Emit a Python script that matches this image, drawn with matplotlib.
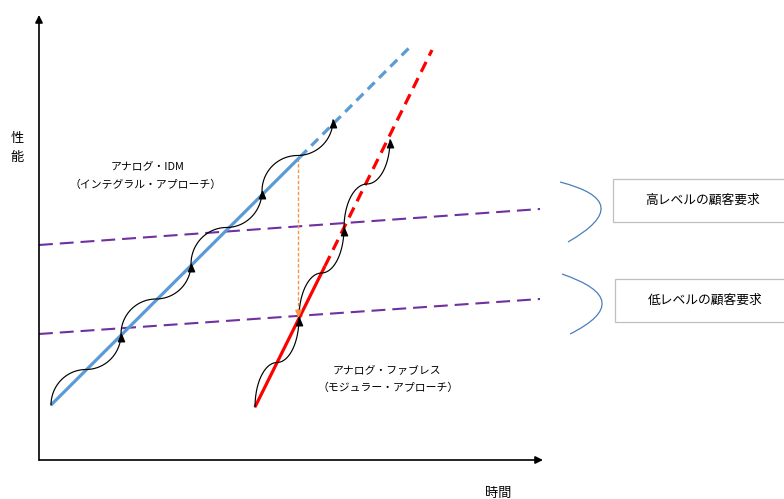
import numpy as np
import matplotlib
matplotlib.use("Agg")
import matplotlib.pyplot as plt
from matplotlib.path import Path
from matplotlib.patches import PathPatch, Rectangle
from matplotlib.markers import MarkerStyle

plt.rcParams['font.family'] = ['Noto Sans CJK JP', 'DejaVu Sans']
plt.rcParams['lines.scale_dashes'] = False

# ---- data (time on x, performance on y) ----
axis_origin = (39, 39)
axis_time_end = 543
axis_perf_end = 484

# trajectory: start, end of achieved (solid) part, end of projection (dashed)
idm_time = [51, 300, 412]
idm_perf = [94, 342, 454]
fabless_time = [255, 325, 432]
fabless_perf = [92, 233, 449]

# product generations along each trajectory
idm_step_time = [51, 121, 191, 262, 333]
idm_step_perf = [94, 165, 235, 308, 379]
fabless_step_time = [255, 299, 344, 390]
fabless_step_perf = [92, 181, 271, 359]

# customer requirement levels
req_time = [39, 540]
req_high_perf = [254, 290]
req_low_perf = [165, 200]

# catch-up marker
catch_time = 298
catch_perf = [341, 183]

idm_label = ['アナログ・IDM', '（インテグラル・アプローチ）']
fabless_label = ['アナログ・ファブレス', '（モジュラー・アプローチ）']
req_labels = ['高レベルの顧客要求', '低レベルの顧客要求']
x_label = '時間'
y_label = ['性', '能']

# ---- colours ----
BLUE = '#5B9BD5'
RED = '#FF0000'
PURPLE = '#7030A0'
ORANGE = '#F79646'
BRACKET = '#4A7EBB'

fig = plt.figure(figsize=(7.84, 4.99), dpi=100)
ax = fig.add_axes([0, 0, 1, 1])
ax.set_xlim(0, 784)
ax.set_ylim(0, 499)
ax.axis('off')

# axes with arrow heads
arrow_kw = dict(arrowstyle='-|>', color='black', lw=1.2, mutation_scale=11,
                shrinkA=0, shrinkB=0)
ax.annotate('', xy=(axis_time_end, axis_origin[1]), xytext=axis_origin,
            arrowprops=arrow_kw)
ax.annotate('', xy=(axis_origin[0], axis_perf_end), xytext=axis_origin,
            arrowprops=arrow_kw)

# requirement levels
for perf in (req_high_perf, req_low_perf):
    ax.plot(req_time, perf, color=PURPLE, lw=1.5, dashes=(10, 5),
            solid_capstyle='butt', dash_capstyle='butt', zorder=2)

# trajectories
ax.plot(idm_time[:2], idm_perf[:2], color=BLUE, lw=2.3, zorder=3,
        solid_capstyle='butt')
ax.plot(idm_time[1:], idm_perf[1:], color=BLUE, lw=2.3, dashes=(7, 4.5),
        zorder=3, dash_capstyle='butt')
ax.plot(fabless_time[:2], fabless_perf[:2], color=RED, lw=2.3, zorder=3,
        solid_capstyle='butt')
ax.plot(fabless_time[1:], fabless_perf[1:], color=RED, lw=2.3, dashes=(8, 5),
        zorder=3, dash_capstyle='butt')


def staircase_wave(ts, ps):
    """Smooth S-curve: vertical tangent at each step, horizontal midway."""
    xs, ys = [], []
    th = np.linspace(0, np.pi / 2, 40)
    for i in range(len(ts) - 1):
        x0, y0 = ts[i], ps[i]
        x2, y2 = ts[i + 1], ps[i + 1]
        xm, ym = (x0 + x2) / 2, (y0 + y2) / 2
        xs.extend(xm - (xm - x0) * np.cos(th))
        ys.extend(y0 + (ym - y0) * np.sin(th))
        xs.extend(xm + (x2 - xm) * np.sin(th))
        ys.extend(y2 - (y2 - ym) * np.cos(th))
    return xs, ys


tip_up = MarkerStyle(Path([(0, 0), (-0.42, -1.0), (0.42, -1.0), (0, 0)],
                          [Path.MOVETO, Path.LINETO, Path.LINETO, Path.CLOSEPOLY]))
tip_down = MarkerStyle(Path([(0, 0), (-0.42, 1.0), (0.42, 1.0), (0, 0)],
                            [Path.MOVETO, Path.LINETO, Path.LINETO, Path.CLOSEPOLY]))

for ts, ps in ((idm_step_time, idm_step_perf),
               (fabless_step_time, fabless_step_perf)):
    wx, wy = staircase_wave(ts, ps)
    ax.plot(wx, wy, color='black', lw=0.85, zorder=4)
    ax.plot(ts[1:], ps[1:], linestyle='none', marker=tip_up, markersize=10.5,
            color='black', zorder=5)

# catch-up line
ax.plot([catch_time, catch_time], catch_perf, color=ORANGE, lw=1.0,
        dashes=(2.5, 1.5), zorder=2)
ax.plot([catch_time], [catch_perf[1]], linestyle='none', marker=tip_down,
        markersize=9, color=ORANGE, zorder=6)

# trajectory labels
label_kw = dict(ha='center', va='center', fontsize=7.8, color='black')
ax.text(148, 499 - 166, idm_label[0], **label_kw)
ax.text(146, 499 - 185, idm_label[1], **label_kw)
ax.text(387, 499 - 370, fabless_label[0], **label_kw)
ax.text(388, 499 - 388, fabless_label[1], **label_kw)

# axis titles
ax.text(17, 499 - 138, y_label[0], ha='center', va='center', fontsize=9.5)
ax.text(17, 499 - 157, y_label[1], ha='center', va='center', fontsize=9.5)
ax.text(498, 499 - 493, x_label, ha='center', va='center', fontsize=9.5)

# requirement boxes with brackets
boxes = [(613, 499 - 222, req_labels[0]), (615, 499 - 322, req_labels[1])]
for bx, by, label in boxes:
    ax.add_patch(Rectangle((bx, by), 200, 43, facecolor='white',
                           edgecolor='#BFBFBF', lw=0.9, zorder=2))
    ax.text(bx + 90, by + 21.5, label, ha='center', va='center', fontsize=9.2,
            color='black', zorder=3)

brackets = [((560, 317), (601, 292), (568, 257)),
            ((562, 225), (602, 197), (570, 165))]
for top, tip, bottom in brackets:
    ctrl = (2 * tip[0] - 0.5 * (top[0] + bottom[0]),
            2 * tip[1] - 0.5 * (top[1] + bottom[1]))
    path = Path([top, ctrl, bottom], [Path.MOVETO, Path.CURVE3, Path.CURVE3])
    ax.add_patch(PathPatch(path, facecolor='none', edgecolor=BRACKET, lw=0.9))

fig.savefig('out.png', dpi=100)
